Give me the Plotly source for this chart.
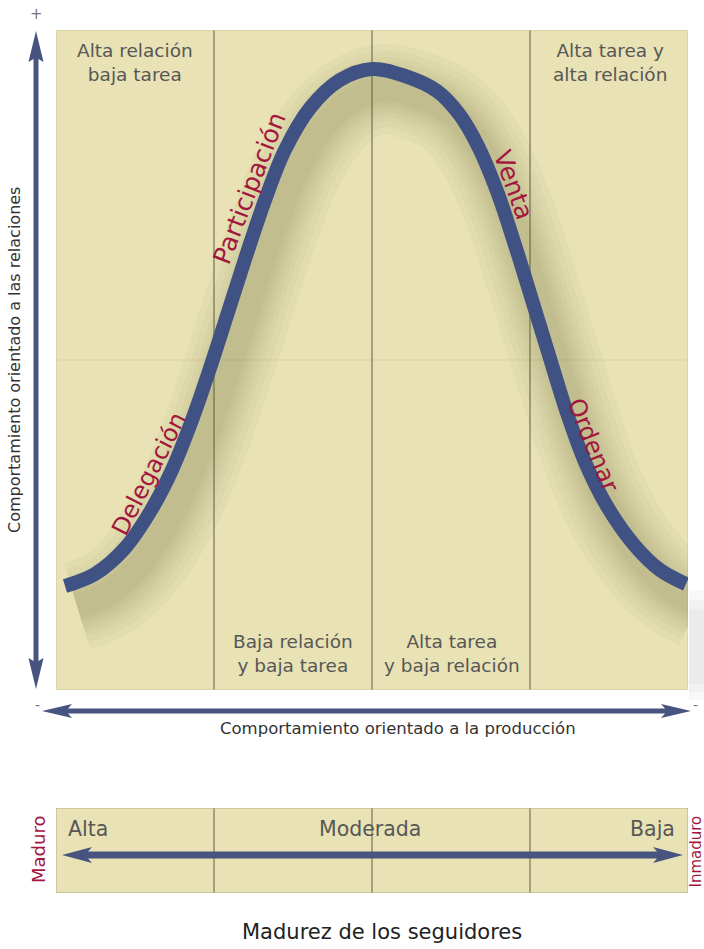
import plotly.graph_objects as go

W, H = 704, 949

# ---------------- data ----------------
quadrant_edges = [0, 1, 2, 3, 4]
quadrant_dividers = [1, 2, 3]
curve_x = [0.057, 0.247, 0.437, 0.595, 0.734, 0.861, 0.975, 1.089, 1.203, 1.323,
           1.449, 1.608, 1.797, 2.0, 2.209, 2.411, 2.551, 2.671, 2.791, 2.905,
           3.013, 3.120, 3.228, 3.348, 3.494, 3.665, 3.823, 3.987]
curve_y = [1.576, 1.758, 2.152, 2.697, 3.333, 4.091, 4.879, 5.727, 6.576, 7.424,
           8.182, 8.818, 9.242, 9.409, 9.303, 9.076, 8.727, 8.242, 7.561, 6.742,
           5.909, 5.076, 4.242, 3.455, 2.758, 2.182, 1.818, 1.606]
style_labels = ["Delegación", "Participación", "Venta", "Ordenar"]
quadrant_top_labels = ["Alta relación<br>baja tarea", "Alta tarea y<br>alta relación"]
quadrant_bottom_labels = ["Baja relación<br>y baja tarea", "Alta tarea<br>y baja relación"]
maturity_labels = ["Alta", "Moderada", "Baja"]
y_axis_title = "Comportamiento orientado a las relaciones"
x_axis_title = "Comportamiento orientado a la producción"
bottom_title = "Madurez de los seguidores"
bottom_end_labels = ["Maduro", "Inmaduro"]

# ---------------- styles ----------------
BEIGE = "#e8e2b5"
NAVY = "#3f5283"
ARROW = "#46547f"
CRIMSON = "#a3173f"
GRAY = "#575757"
FONT = "DejaVu Sans"

def px(x):
    return x / W

def py(y):
    return 1 - y / H

fig = go.Figure()

# curve shadow (stacked translucent wide strokes, offset down-right)
dx_shift = 12 / 158.0
dy_shift = 20 / 66.0
for wdt in [90, 76, 64, 54, 45, 37, 30, 24]:
    fig.add_trace(go.Scatter(
        x=[v + dx_shift for v in curve_x], y=[v - dy_shift for v in curve_y],
        mode="lines", line=dict(color="rgba(105,95,50,0.038)", width=wdt, shape="spline", smoothing=1.0),
        hoverinfo="skip", showlegend=False, xaxis="x", yaxis="y"))

fig.add_trace(go.Scatter(
    x=curve_x, y=curve_y, mode="lines",
    line=dict(color=NAVY, width=14, shape="spline", smoothing=1.0),
    hoverinfo="skip", showlegend=False, xaxis="x", yaxis="y"))

# dummy trace for bottom axis
fig.add_trace(go.Scatter(x=[quadrant_edges[0], quadrant_edges[-1]], y=[0, 1], mode="markers",
                         marker=dict(opacity=0), hoverinfo="skip", showlegend=False,
                         xaxis="x2", yaxis="y2"))

shapes = []
shapes.append(dict(type="line", xref="x", yref="y", x0=quadrant_edges[0], x1=quadrant_edges[-1],
                   y0=5, y1=5, line=dict(color="#d9d2a3", width=1), layer="below"))
for d in quadrant_dividers:
    shapes.append(dict(type="line", xref="x", yref="y", x0=d, x1=d, y0=0, y1=10,
                       line=dict(color="#5e5c45", width=1), layer="below"))
    shapes.append(dict(type="line", xref="x2", yref="y2", x0=d, x1=d, y0=0, y1=1,
                       line=dict(color="#5e5c45", width=1), layer="below"))
shapes.append(dict(type="rect", xref="x", yref="y", x0=0, x1=4, y0=0, y1=10,
                   line=dict(color="#cfc89d", width=1), layer="below"))
shapes.append(dict(type="rect", xref="x2", yref="y2", x0=0, x1=4, y0=0, y1=1,
                   line=dict(color="#b3ad8a", width=1), layer="below"))


def arrow_path(x0, y0, x1, y1, shaft, hl, hw):
    s = shaft / 2
    h = hw / 2
    if y0 == y1:
        y = y0
        a0 = x0 + hl
        a1 = x1 - hl
        pts = [(x0, y), (a0, y - h), (a0 - 4, y - s), (a1 + 4, y - s), (a1, y - h), (x1, y),
               (a1, y + h), (a1 + 4, y + s), (a0 - 4, y + s), (a0, y + h)]
    else:
        x = x0
        a0 = y0 + hl
        a1 = y1 - hl
        pts = [(x, y0), (x + h, a0), (x + s, a0 - 3), (x + s, a1 + 3), (x + h, a1), (x, y1),
               (x - h, a1), (x - s, a1 + 3), (x - s, a0 - 3), (x - h, a0)]
    return "M " + " L ".join(f"{px(a):.5f},{py(b):.5f}" for a, b in pts) + " Z"


for path in [arrow_path(36, 31, 36, 689, 5, 31, 15),
             arrow_path(42, 711, 691, 711, 5, 30, 14),
             arrow_path(62, 855, 683, 855, 7, 30, 16)]:
    shapes.append(dict(type="path", xref="paper", yref="paper", path=path,
                       fillcolor=ARROW, line=dict(width=0)))

# soft grey shade at the right edge
for i in range(3):
    shapes.append(dict(type="rect", xref="paper", yref="paper", x0=px(689), x1=px(704),
                       y0=py(700 - i * 8), y1=py(590 + i * 10), fillcolor="rgba(190,190,190,0.10)",
                       line=dict(width=0), layer="below"))

ann = []

def txt(text, x, y, size, color=GRAY, angle=0, xanchor="center"):
    ann.append(dict(text=text, x=x, y=y, xref="paper", yref="paper", showarrow=False,
                    font=dict(family=FONT, size=size, color=color), textangle=angle,
                    xanchor=xanchor, yanchor="middle", align="center"))

# quadrant labels
txt(quadrant_top_labels[0], px(135), py(63), 18.5)
txt(quadrant_top_labels[1], px(610), py(63), 18.5)
txt(quadrant_bottom_labels[0], px(293), py(653), 18.5)
txt(quadrant_bottom_labels[1], px(452), py(653), 18.5)

# curve labels
txt(style_labels[0], px(149), py(474), 24, CRIMSON, -63)
txt(style_labels[1], px(249), py(188), 25, CRIMSON, -69)
txt(style_labels[2], px(514), py(185), 25, CRIMSON, 70)
txt(style_labels[3], px(593), py(445), 24, CRIMSON, 68)

# axis titles
txt(y_axis_title, px(14), py(360), 16, "#333333", -90)
txt(x_axis_title, px(398), py(728), 16.5, "#333333")
txt("+", px(36), py(14), 15, "#777777")
txt("-", px(37), py(705), 14, "#777777")
txt("-", px(695), py(705), 14, "#777777")

# bottom panel
txt(maturity_labels[0], px(66), py(829), 20.5, GRAY, xanchor="left")
txt(maturity_labels[1], px(370), py(829), 20.5, GRAY)
txt(maturity_labels[2], px(677), py(829), 20.5, GRAY, xanchor="right")
txt(bottom_end_labels[0], px(38), py(850), 18, CRIMSON, -90)
txt(bottom_end_labels[1], px(695.5), py(852), 15, CRIMSON, -90)
txt(bottom_title, px(382), py(932), 21, "#222222")

fig.update_layout(
    width=W, height=H, margin=dict(l=0, r=0, t=0, b=0),
    paper_bgcolor="white", plot_bgcolor=BEIGE,
    xaxis=dict(domain=[px(56), px(688)], range=[0, 4], visible=False, fixedrange=True),
    yaxis=dict(domain=[py(690), py(30)], range=[0, 10], visible=False, fixedrange=True),
    xaxis2=dict(domain=[px(56), px(688)], range=[0, 4], visible=False, fixedrange=True),
    yaxis2=dict(domain=[py(893), py(808)], range=[0, 1], visible=False, fixedrange=True),
    shapes=shapes, annotations=ann, showlegend=False,
)

fig.write_html("out.html", config={"displayModeBar": False},
               post_script="document.body.style.margin='0';document.body.style.overflow='hidden';")
